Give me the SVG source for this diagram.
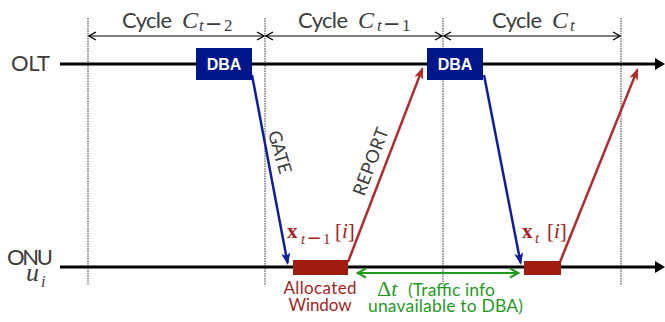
<svg xmlns="http://www.w3.org/2000/svg" width="665" height="322" viewBox="0 0 665 322">
<style>
.sans{font-family:Lato,"Open Sans","Liberation Sans",sans-serif;}
.lbl{fill:#3c3c3c;}
.math{font-family:"Liberation Serif","DejaVu Serif",serif;font-style:italic;}
.mathb{font-family:"Liberation Serif","DejaVu Serif",serif;font-weight:bold;}
.minus{font-family:"DejaVu Sans",sans-serif;font-style:normal;}
.up{font-style:normal;}
.red{fill:#a52222;}
.green{fill:#1f9a1f;}
.dot{stroke:#333;stroke-width:1;stroke-dasharray:1.5 1;fill:none;}
.axis{stroke:#000;stroke-width:3;fill:none;}
.cyc{stroke:#000;stroke-width:1.2;fill:none;marker-start:url(#chev);marker-end:url(#chev);}
.gate{stroke:#0d1f9e;stroke-width:2.5;fill:none;marker-end:url(#ahb);}
.rep{stroke:#b22a2a;stroke-width:2.5;fill:none;marker-end:url(#ahr);}
.dba{fill:#00178c;}
.win{fill:#a01b10;}
.dbat{font-family:"Liberation Sans",Arial,sans-serif;font-weight:bold;font-size:16px;fill:#fff;text-anchor:middle;}
</style>
<defs>
<marker id="chev" viewBox="0 0 10 10" refX="9" refY="5" markerWidth="10" markerHeight="10" markerUnits="userSpaceOnUse" orient="auto-start-reverse">
<path d="M2,1 L9,5 L2,9" fill="none" stroke="#000" stroke-width="1.3"/>
</marker>
<marker id="chevg" viewBox="0 0 12 12" refX="11" refY="6" markerWidth="12" markerHeight="12" markerUnits="userSpaceOnUse" orient="auto-start-reverse">
<path d="M2,1.5 L10.5,6 L2,10.5" fill="none" stroke="#1f9a1f" stroke-width="2"/>
</marker>
<marker id="ahb" viewBox="0 0 12 10" refX="10" refY="5" markerWidth="12" markerHeight="10" markerUnits="userSpaceOnUse" orient="auto">
<path d="M0,0.5 L12,5 L0,9.5 L3,5 Z" fill="#0d1f9e"/>
</marker>
<marker id="ahr" viewBox="0 0 12 10" refX="10" refY="5" markerWidth="12" markerHeight="10" markerUnits="userSpaceOnUse" orient="auto">
<path d="M0,0.5 L12,5 L0,9.5 L3,5 Z" fill="#b22a2a"/>
</marker>
</defs>

<g id="cycle-bounds">
<line class="dot" x1="88" y1="18" x2="88" y2="285"/>
<line class="dot" x1="265" y1="18" x2="265" y2="285"/>
<line class="dot" x1="443" y1="18" x2="443" y2="285"/>
<line class="dot" x1="621" y1="18" x2="621" y2="285"/>
</g>

<g id="cycle-labels">
<line class="cyc" x1="89" y1="36" x2="264" y2="36"/>
<line class="cyc" x1="266" y1="36" x2="442" y2="36"/>
<line class="cyc" x1="444" y1="36" x2="620" y2="36"/>
<text class="sans lbl" x="122" y="28" font-size="22" textLength="50">Cycle</text>
<text class="math lbl" x="182" y="28" font-size="24">C</text>
<text class="math lbl" y="31" font-size="17"><tspan x="199">t</tspan><tspan class="minus" x="205" font-size="21">−</tspan><tspan class="up" x="224">2</tspan></text>
<text class="sans lbl" x="298" y="28" font-size="22" textLength="50">Cycle</text>
<text class="math lbl" x="358" y="28" font-size="24">C</text>
<text class="math lbl" y="31" font-size="17"><tspan x="377">t</tspan><tspan class="minus" x="383" font-size="21">−</tspan><tspan class="up" x="402">1</tspan></text>
<text class="sans lbl" x="492" y="28" font-size="22" textLength="50">Cycle</text>
<text class="math lbl" x="552" y="28" font-size="24">C</text>
<text class="math lbl" x="570" y="31" font-size="17">t</text>
</g>

<g id="OLT">
<line class="axis" x1="60" y1="64" x2="657" y2="64"/>
<polygon points="655,58 665,64 655,70" fill="#000"/>
<text class="sans lbl" x="11" y="71" font-size="22" textLength="39">OLT</text>
</g>

<g id="ONU">
<line class="axis" x1="60" y1="267" x2="657" y2="267"/>
<polygon points="655,261 665,267 655,273" fill="#000"/>
<text class="sans lbl" x="7" y="265" font-size="22" textLength="46">ONU</text>
<text class="math lbl" x="26" y="281" font-size="26">u</text>
<text class="math lbl" x="41" y="287" font-size="16">i</text>
</g>

<g id="connectors">
<line class="gate" x1="252" y1="75" x2="287.6" y2="263"/>
<line class="gate" x1="484" y1="75" x2="520.6" y2="263"/>
<line class="rep" x1="348" y1="262" x2="422.3" y2="68.9"/>
<line class="rep" x1="560" y1="262" x2="637.3" y2="69.9"/>
<line x1="357" y1="273" x2="519" y2="273" stroke="#1f9a1f" stroke-width="2" marker-start="url(#chevg)" marker-end="url(#chevg)"/>
<text class="sans lbl" font-size="18" text-anchor="middle" textLength="44" transform="translate(280,152) rotate(74)" y="6.5">GATE</text>
<text class="sans lbl" font-size="18" text-anchor="middle" textLength="71" transform="translate(370.5,161.5) rotate(-69.5)" y="6.5">REPORT</text>
</g>

<g id="DBA1">
<rect class="dba" x="196" y="48" width="56" height="32"/>
<text class="dbat" x="224" y="69.5">DBA</text>
</g>
<g id="DBA2">
<rect class="dba" x="427" y="48" width="56" height="32"/>
<text class="dbat" x="455" y="69.5">DBA</text>
</g>

<g id="window1">
<rect class="win" x="293" y="260" width="55" height="15"/>
<text class="mathb red" x="287" y="238" font-size="21">x</text>
<text class="math red" y="244" font-size="15"><tspan x="301">t</tspan><tspan class="minus" x="306.5" font-size="18">−</tspan><tspan class="up" x="323">1</tspan></text>
<text class="red" font-family="Liberation Serif,DejaVu Serif,serif" x="335" y="238" font-size="21">[<tspan font-style="italic">i</tspan>]</text>
<text class="sans red" x="320" y="294" font-size="17" text-anchor="middle" textLength="73">Allocated</text>
<text class="sans red" x="320" y="311" font-size="17" text-anchor="middle" textLength="63">Window</text>
</g>

<g id="window2">
<rect class="win" x="524" y="261" width="37" height="14"/>
<text class="mathb red" x="522" y="238" font-size="21">x</text>
<text class="math red" x="535" y="243" font-size="15">t</text>
<text class="red" font-family="Liberation Serif,DejaVu Serif,serif" x="547" y="238" font-size="21">[<tspan font-style="italic">i</tspan>]</text>
</g>

<g id="delta-label">
<text class="green" font-family="Liberation Serif,DejaVu Serif,serif" x="377" y="296" font-size="22">Δ<tspan font-style="italic">t</tspan></text>
<text class="sans green" x="408" y="296" font-size="17.5" textLength="87">(Traffic info</text>
<text class="sans green" x="368" y="312" font-size="17.5" textLength="155">unavailable to DBA)</text>
</g>
</svg>
